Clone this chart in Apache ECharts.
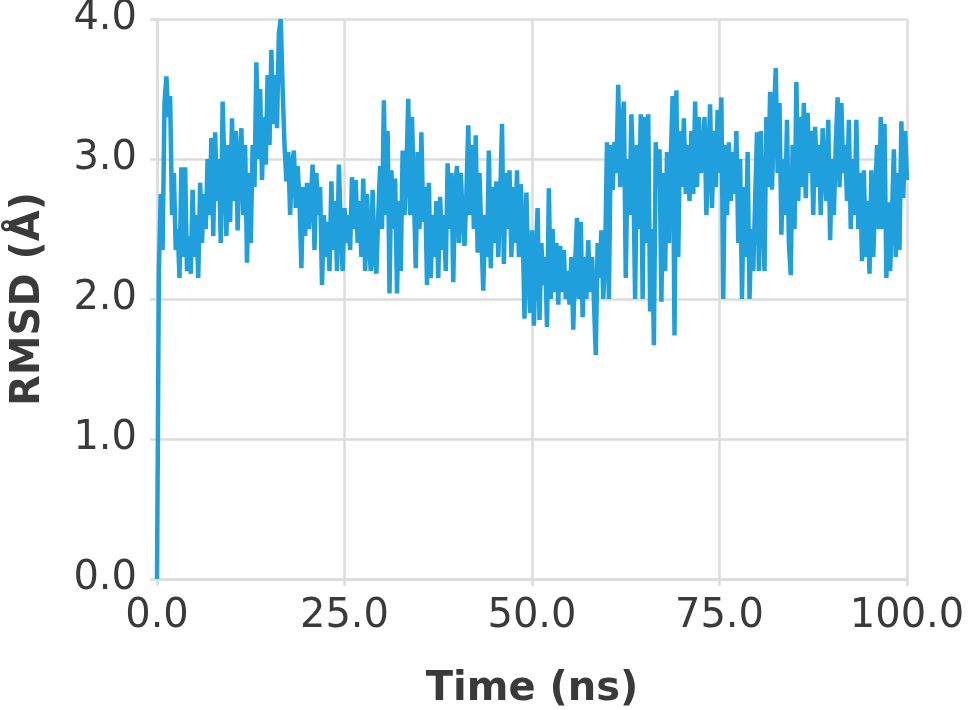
<!DOCTYPE html>
<html>
<head>
<meta charset="utf-8">
<script src="https://cdn.jsdelivr.net/npm/echarts@6/dist/echarts.min.js"></script>
<style>
html,body{margin:0;padding:0;background:#fff;}
#chart{width:968px;height:710px;}
</style>
</head>
<body>
<div id="chart"></div>
<script>
// Sampling interval of the trajectory (ns)
const timeStepNs = 0.25;

// RMSD values (Å), one every 0.25 ns from 0 to 100 ns
const rmsd_0_20 = [
  0.0, 2.2, 2.75, 2.35, 3.4, 3.59, 3.3, 3.45, 2.6, 2.9, 2.35, 2.5, 2.15, 2.94, 2.3, 2.94, 2.2, 2.45, 2.18, 2.78,
  2.3, 2.6, 2.15, 2.83, 2.4, 2.75, 2.5, 3.0, 2.6, 3.15, 2.45, 3.19, 2.7, 3.0, 2.4, 3.41, 2.9, 2.45, 3.1, 2.55,
  3.29, 2.7, 3.2, 2.49, 3.0, 3.22, 2.6, 3.1, 2.26, 2.9, 2.4, 3.1, 2.8, 3.69, 3.0, 3.5, 2.85, 3.3, 2.96, 3.6,
  3.1, 3.78, 3.25, 3.6, 3.22, 3.9, 4.0, 3.5, 3.1, 2.84, 3.05, 2.6, 2.95, 3.06, 2.65, 2.95, 2.7, 2.22, 2.8, 2.45
];
const rmsd_20_40 = [
  2.83, 2.5, 2.7, 2.96, 2.35, 2.9, 2.6, 2.8, 2.1, 2.6, 2.3, 2.55, 2.2, 2.84, 2.35, 2.7, 2.2, 2.96, 2.5, 2.2,
  2.65, 2.4, 2.6, 2.35, 2.87, 2.5, 2.85, 2.4, 2.7, 2.3, 2.86, 2.2, 2.75, 2.4, 2.2, 2.78, 2.3, 2.18, 2.6, 2.95,
  2.5, 3.42, 2.6, 3.2, 2.04, 2.92, 2.5, 2.86, 2.04, 2.7, 2.2, 3.06, 2.6, 2.9, 3.43, 2.6, 3.3, 2.75, 2.22, 3.05,
  2.5, 3.19, 2.55, 2.8, 2.1, 2.83, 2.15, 2.6, 2.3, 2.7, 2.15, 2.73, 2.35, 2.6, 2.2, 2.97, 2.5, 2.9, 2.12, 2.8
];
const rmsd_40_60 = [
  2.95, 2.4, 2.9, 2.6, 2.38, 2.75, 3.24, 2.6, 3.1, 2.5, 3.17, 2.33, 2.9, 2.45, 2.06, 2.6, 2.3, 3.06, 2.22, 2.8,
  2.4, 2.84, 2.3, 2.7, 3.25, 2.25, 2.9, 2.5, 2.92, 2.3, 2.8, 2.4, 2.92, 2.3, 2.82, 2.5, 1.86, 2.76, 2.2, 1.9,
  2.49, 1.81, 2.3, 2.65, 1.85, 2.4, 2.1, 2.3, 1.8, 2.79, 2.0, 2.5, 2.05, 2.4, 1.96, 2.38, 2.05, 2.35, 2.0, 2.2,
  1.96, 2.3, 1.78, 2.25, 2.58, 2.0, 2.55, 1.87, 2.3, 2.0, 2.42, 2.05, 2.3, 2.0, 1.6, 2.4, 2.15, 2.49, 2.0, 2.3
];
const rmsd_60_80 = [
  3.12, 2.0, 3.1, 2.78, 3.12, 2.9, 3.53, 2.8, 3.2, 3.41, 2.15, 3.0, 2.6, 3.32, 2.9, 2.0, 3.1, 2.5, 3.32, 2.0,
  3.3, 2.4, 3.32, 1.91, 2.5, 1.67, 3.12, 2.8, 3.07, 1.98, 2.9, 2.2, 3.05, 2.4, 3.0, 3.45, 1.74, 3.49, 2.3, 3.2,
  2.8, 3.29, 2.75, 3.1, 2.7, 3.2, 2.75, 3.41, 2.8, 3.3, 2.9, 3.0, 3.3, 2.6, 3.0, 3.39, 2.65, 3.2, 2.8, 3.35,
  2.9, 3.44, 2.0, 3.1, 2.6, 3.12, 2.7, 3.05, 2.75, 3.2, 2.4, 3.0, 2.0, 2.8, 2.3, 3.05, 2.0, 2.5, 2.2, 2.7
];
const rmsd_80_100 = [
  3.19, 2.2, 3.2, 2.6, 2.2, 3.3, 2.8, 3.48, 2.78, 3.3, 3.65, 2.9, 3.4, 2.46, 3.0, 2.6, 3.28, 2.4, 2.17, 3.1,
  2.5, 3.55, 2.7, 3.3, 2.8, 3.4, 2.72, 3.33, 2.9, 3.2, 2.6, 3.23, 2.8, 3.1, 2.6, 3.22, 2.9, 2.7, 3.28, 2.42,
  3.0, 2.6, 3.1, 3.44, 2.8, 3.4, 2.9, 3.1, 2.7, 3.28, 2.5, 3.0, 2.6, 3.28, 2.5, 2.9, 2.27, 2.92, 2.3, 2.7,
  2.18, 2.92, 2.3, 2.7, 3.1, 2.5, 3.3, 2.5, 3.25, 2.15, 2.69, 2.2, 2.6, 3.07, 2.3, 2.9, 2.35, 3.27, 2.72, 3.2,
  2.85
];

const xTicks = [0, 25, 50, 75, 100];
const yTicks = [0, 1, 2, 3, 4];

const rmsdValues = [].concat(rmsd_0_20, rmsd_20_40, rmsd_40_60, rmsd_60_80, rmsd_80_100);
const seriesData = rmsdValues.map((v, i) => [i * timeStepNs, v]);

const chart = echarts.init(document.getElementById('chart'), null, {renderer: 'canvas'});
const gridColor = '#dcdcdc';
const textColor = '#3a3a3a';
const fontFam = '"DejaVu Sans", sans-serif';

chart.setOption({
  animation: false,
  backgroundColor: '#ffffff',
  grid: {left: 157, right: 61, top: 19, bottom: 131, containLabel: false, outerBoundsMode: 'none'},
  xAxis: {
    type: 'value',
    min: xTicks[0], max: xTicks[xTicks.length - 1], interval: 25,
    name: 'Time (ns)',
    nameLocation: 'middle',
    nameGap: 91,
    nameTextStyle: {fontFamily: fontFam, fontSize: 40, fontWeight: 'bold', color: textColor},
    axisLine: {show: true, lineStyle: {color: gridColor, width: 2.5}},
    axisTick: {show: true, length: 7, lineStyle: {color: gridColor, width: 2.5}},
    axisLabel: {margin: 18, fontFamily: fontFam, fontSize: 40, color: textColor,
      formatter: v => v.toFixed(1)},
    splitLine: {show: true, lineStyle: {color: gridColor, width: 2.5}}
  },
  yAxis: {
    type: 'value',
    min: yTicks[0], max: yTicks[yTicks.length - 1], interval: 1,
    name: 'RMSD (Å)',
    nameLocation: 'middle',
    nameGap: 108,
    nameTextStyle: {fontFamily: fontFam, fontSize: 40, fontWeight: 'bold', color: textColor},
    axisLine: {show: true, lineStyle: {color: gridColor, width: 2.5}},
    axisTick: {show: true, length: 7, lineStyle: {color: gridColor, width: 2.5}},
    axisLabel: {margin: 20, fontFamily: fontFam, fontSize: 40, color: textColor,
      formatter: v => v.toFixed(1)},
    splitLine: {show: true, lineStyle: {color: gridColor, width: 2.5}}
  },
  series: [{
    type: 'line',
    data: seriesData,
    showSymbol: false,
    symbol: 'none',
    clip: true,
    lineStyle: {color: '#209fdd', width: 4.5},
    z: 3
  }]
});
</script>
</body>
</html>
